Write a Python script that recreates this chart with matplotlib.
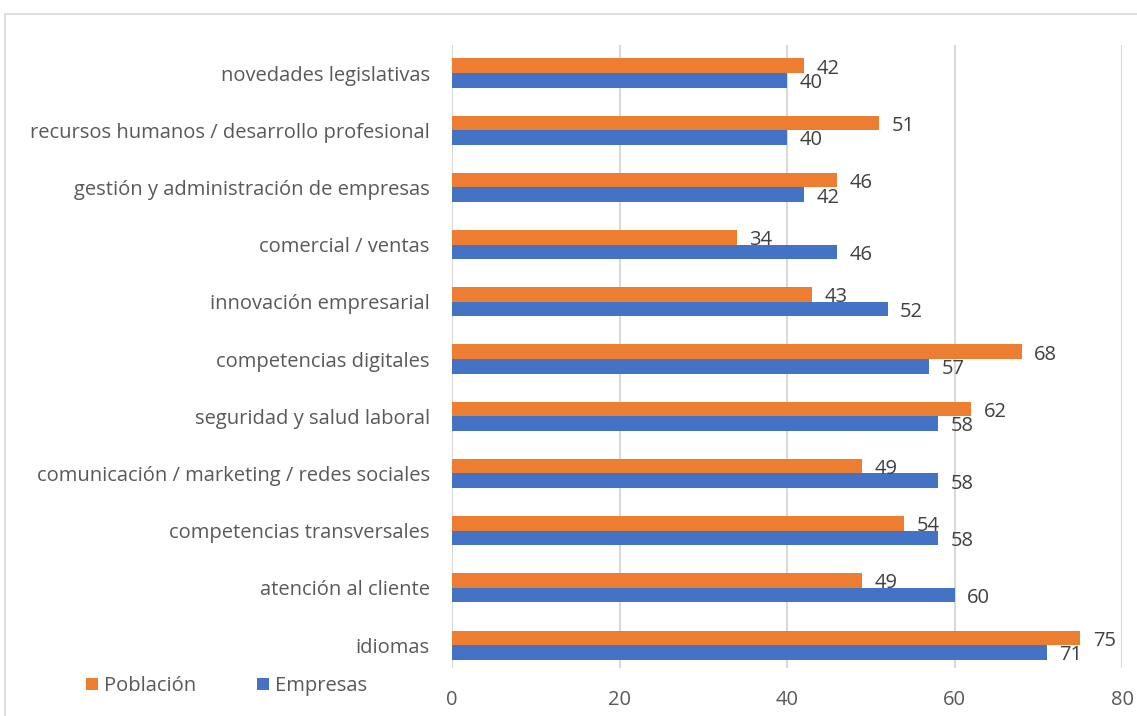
import numpy as np
import matplotlib
matplotlib.use("Agg")
import matplotlib.pyplot as plt
from matplotlib.patches import Rectangle

# data, top to bottom as shown
categories = ["novedades legislativas",
              "recursos humanos / desarrollo profesional",
              "gestión y administración de empresas",
              "comercial / ventas",
              "innovación empresarial",
              "competencias digitales",
              "seguridad y salud laboral",
              "comunicación / marketing / redes sociales",
              "competencias transversales",
              "atención al cliente",
              "idiomas"]
poblacion = [42, 51, 46, 34, 43, 68, 62, 49, 54, 49, 75]
empresas = [40, 40, 42, 46, 52, 57, 58, 58, 58, 60, 71]
xticks = [0, 20, 40, 60, 80]

orange = "#ED7D31"
blue = "#4472C4"
txt = "#595959"

plt.rcParams['font.family'] = ['Open Sans', 'DejaVu Sans']

fig = plt.figure(figsize=(11.37, 7.16), dpi=100)
ax = fig.add_axes([452/1137, 1 - 668/716, 670/1137, 623/716])

y = np.arange(len(categories))
h = 0.255
b1 = ax.barh(y - h/2, poblacion, height=h, color=orange, label="Población")
b2 = ax.barh(y + h/2, empresas, height=h, color=blue, label="Empresas")

for bars in (b1, b2):
    for rect in bars:
        w = rect.get_width()
        ax.annotate(f"{w:g}", (w, rect.get_y() + rect.get_height()/2),
                    xytext=(9, -2), textcoords="offset points",
                    va="center", ha="left", fontsize=14.5, color="#404040")

ax.set_xlim(0, 80)
ax.set_ylim(10.4, -0.49)
ax.set_xticks(xticks)
ax.set_yticks(y)
ax.set_yticklabels(categories)
ax.tick_params(axis="both", length=0, labelsize=14.5, colors=txt)
ax.tick_params(axis="y", pad=16)
ax.tick_params(axis="x", pad=16)
ax.grid(axis="x", color="#d9d9d9", linewidth=1.5)
ax.set_axisbelow(True)
for s in ax.spines.values():
    s.set_visible(False)

fig.legend(handles=[b1, b2], loc="center left", bbox_to_anchor=(68/1137, 1 - 686/716),
           ncol=2, frameon=False, fontsize=14.5, labelcolor=txt,
           handlelength=0.6, handleheight=0.6, handletextpad=0.3, columnspacing=3.0)

fig.patches.append(Rectangle((5/1137, -0.01), 1.0, 1 - 14/716 + 0.01,
                             transform=fig.transFigure, fill=False,
                             edgecolor="#d9d9d9", linewidth=1.2))

fig.savefig("out.png", dpi=100)
